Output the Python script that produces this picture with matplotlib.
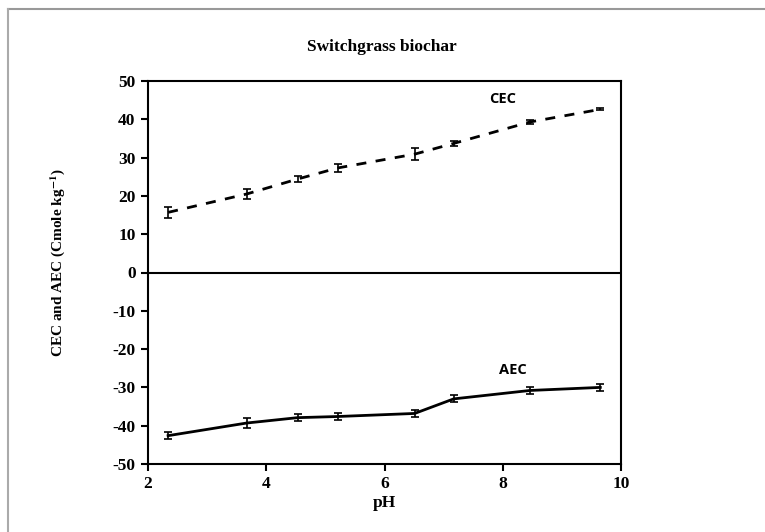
import matplotlib
matplotlib.use("Agg")
import matplotlib.pyplot as plt
from matplotlib.lines import Line2D

# Données
ph = [2.34, 3.67, 4.53, 5.21, 6.51, 7.17, 8.46, 9.65]
cec = [15.7, 20.5, 24.4, 27.3, 30.9, 33.7, 39.3, 42.6]
cec_err = [1.4, 1.4, 0.8, 1.0, 1.5, 0.7, 0.6, 0.3]
aec = [-42.6, -39.3, -37.9, -37.6, -36.8, -33.0, -30.8, -30.0]
aec_err = [1.0, 1.3, 1.0, 1.0, 0.9, 0.9, 1.0, 1.0]
yticks = list(range(-50, 51, 10))
xticks = [2, 4, 6, 8, 10]

plt.rcParams['mathtext.fontset'] = 'stix'
plt.rcParams['axes.unicode_minus'] = False
serif = 'Liberation Serif'

fig = plt.figure(figsize=(7.65, 5.32), dpi=100)
ax = fig.add_axes([148 / 765, 1 - 464 / 532, 473 / 765, 383 / 532])

# Cadre gris autour de la figure
fig.add_artist(Line2D([7.5 / 765, 1], [1 - 8.5 / 532] * 2, color='#999999', lw=1.5))
fig.add_artist(Line2D([7.5 / 765] * 2, [0, 1 - 8.5 / 532], color='#aaaaaa', lw=1.5))

ax.errorbar(ph, cec, yerr=cec_err, color='black', lw=2, ls=(0, (3.6, 3.4)),
            capsize=3, elinewidth=1.2, capthick=1.2)
ax.errorbar(ph, aec, yerr=aec_err, color='black', lw=2,
            capsize=3, elinewidth=1.2, capthick=1.2)
ax.axhline(0, color='black', lw=1.5)

ax.set_xlim(2, 10)
ax.set_ylim(-50, 50)
ax.set_xticks(xticks)
ax.set_yticks(yticks)
for s in ax.spines.values():
    s.set_linewidth(1.5)
ax.tick_params(direction='out', length=5, width=1.5, pad=4)
for lab in ax.get_xticklabels() + ax.get_yticklabels():
    lab.set_fontfamily(serif)
    lab.set_fontweight('bold')
    lab.set_fontsize(12.5)

ax.set_xlabel('pH', fontfamily=serif, fontweight='bold', fontsize=12.5, labelpad=2)
ax.set_ylabel(r'CEC and AEC (Cmole kg$^{\mathbf{-1}}$)', fontfamily=serif,
              fontweight='bold', fontsize=11)
ax.yaxis.set_label_coords(-0.172, 0.525)
fig.text(382 / 765, 1 - 47 / 532, 'Switchgrass biochar', fontfamily=serif,
         fontweight='bold', fontsize=12.5, ha='center', va='center')

ax.text(8.0, 45.2, 'CEC', fontfamily='Open Sans', fontweight='bold', fontsize=10.5,
        ha='center', va='center')
ax.text(8.17, -25.5, 'AEC', fontfamily='Open Sans', fontweight='bold', fontsize=10.5,
        ha='center', va='center')

fig.savefig('out.png', dpi=100)
